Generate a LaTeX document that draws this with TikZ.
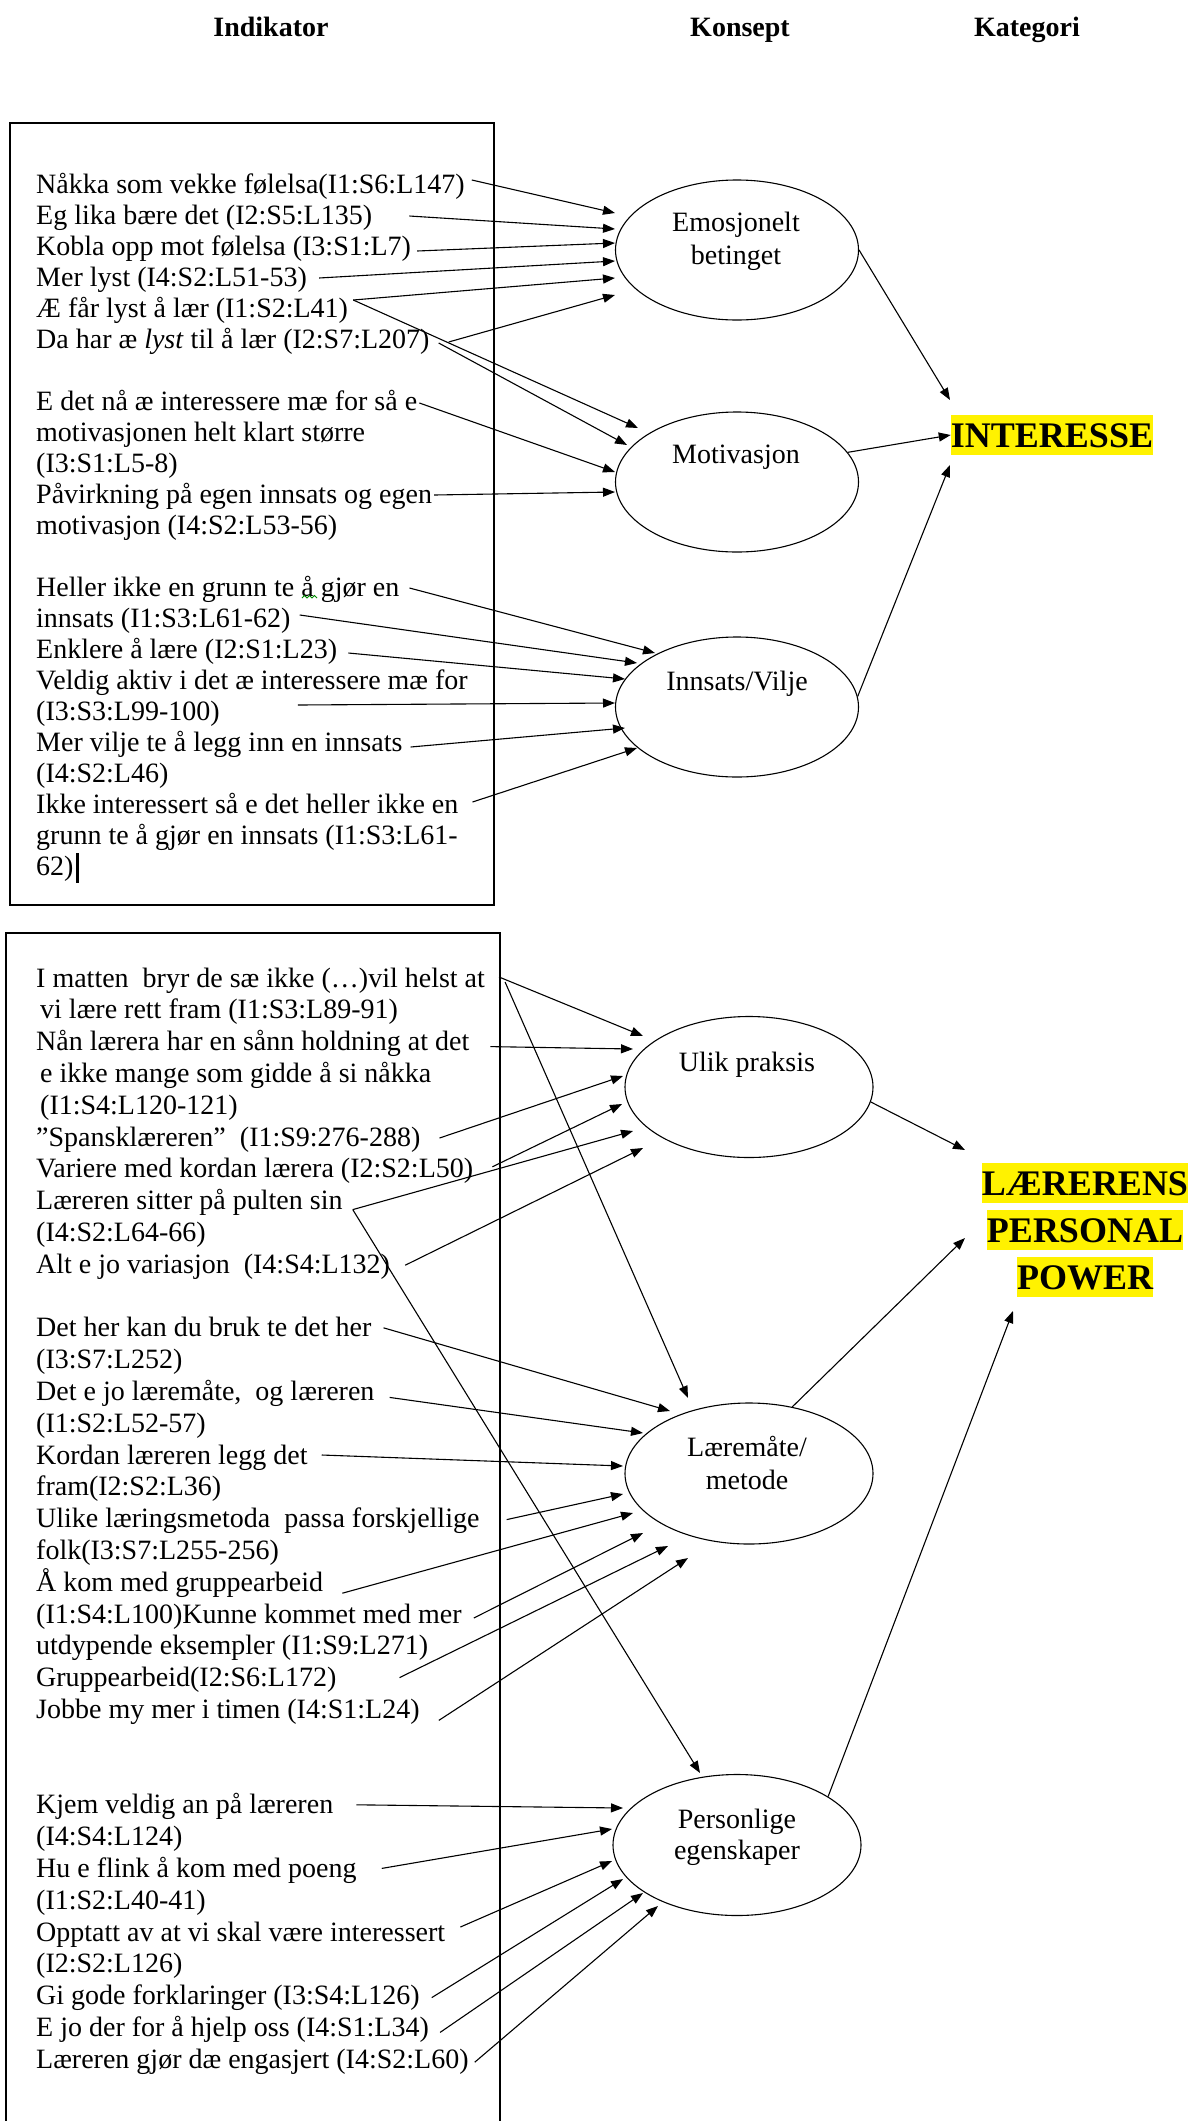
\documentclass[tikz,border=0pt]{standalone}
\usepackage{fontspec}
\setmainfont{Liberation Serif}
\usetikzlibrary{arrows.meta,shapes.geometric}
\begin{document}
\begin{tikzpicture}[x=1pt,y=-1pt,
  txt/.style={anchor=base west,inner sep=0pt,font=\fontsize{28}{32}\selectfont},
  hdr/.style={anchor=base,inner sep=0pt,font=\fontsize{28}{32}\selectfont\bfseries},
  ctext/.style={anchor=base,inner sep=0pt,font=\fontsize{28}{32}\selectfont},
  concept/.style={draw,ellipse,line width=1.1pt,minimum width=243pt,minimum height=140pt,inner sep=0pt},
  conceptw/.style={concept,minimum width=248pt,minimum height=141pt},
  cat/.style={anchor=base,fill=yellow,inner xsep=0pt,inner ysep=0pt,text height=32pt,text depth=8pt,
              font=\fontsize{36}{40}\selectfont\bfseries},
  arr/.style={line width=1.1pt,-{Triangle[length=12pt,width=9pt]}},
  boxline/.style={line width=1.5pt},
]
\useasboundingbox (0,0) rectangle (1192,2121);

% column headings
\node[hdr] (h1) at (271,36) {Indikator};
\node[hdr] (h2) at (740,36) {Konsept};
\node[hdr] (h3) at (1027,36) {Kategori};

% frames around the indicator lists
\draw[boxline] (10,123) rectangle (494,905);
\draw[boxline] (6,2121) -- (6,933) -- (500,933) -- (500,2121);

% ---------- indicators, first list ----------
\node[txt] (a1)  at (36,193) {Nåkka som vekke følelsa(I1:S6:L147)};
\node[txt] (a2)  at (36,224) {Eg lika bære det (I2:S5:L135)};
\node[txt] (a3)  at (36,255) {Kobla opp mot følelsa (I3:S1:L7)};
\node[txt] (a4)  at (36,286) {Mer lyst (I4:S2:L51-53)};
\node[txt] (a5)  at (36,317) {Æ får lyst å lær (I1:S2:L41)};
\node[txt] (a6)  at (36,348) {Da har æ \textit{lyst} til å lær (I2:S7:L207)};
\node[txt] (a7)  at (36,410) {E det nå æ interessere mæ for så e};
\node[txt] (a8)  at (36,441) {motivasjonen helt klart større};
\node[txt] (a9)  at (36,472) {(I3:S1:L5-8)};
\node[txt] (a10) at (36,503) {Påvirkning på egen innsats og egen};
\node[txt] (a11) at (36,534) {motivasjon (I4:S2:L53-56)};
\node[txt] (a12) at (36,596) {Heller ikke en grunn te å gjør en};
\node[txt] (a13) at (36,627) {innsats (I1:S3:L61-62)};
\node[txt] (a14) at (36,658) {Enklere å lære (I2:S1:L23)};
\node[txt] (a15) at (36,689) {Veldig aktiv i det æ interessere mæ for};
\node[txt] (a16) at (36,720) {(I3:S3:L99-100)};
\node[txt] (a17) at (36,751) {Mer vilje te å legg inn en innsats};
\node[txt] (a18) at (36,782) {(I4:S2:L46)};
\node[txt] (a19) at (36,813) {Ikke interessert så e det heller ikke en};
\node[txt] (a20) at (36,844) {grunn te å gjør en innsats (I1:S3:L61-};
\node[txt] (a21) at (36,875) {62)};
% text cursor and grammar squiggle
\draw[line width=2.5pt] ([shift={(4,-22)}]a21.base east) -- ([shift={(4,8)}]a21.base east);
\draw[green!55!black,line width=0.8pt] (302,598) -- (304.5,595.5) -- (307,598) -- (309.5,595.5) -- (312,598) -- (314.5,595.5) -- (317,598);

% ---------- indicators, second list ----------
\node[txt] (b0)  at (36,987)    {I matten\ \ bryr de sæ ikke (…)vil helst at};
\node[txt] (b1)  at (40,1018.8) {vi lære rett fram (I1:S3:L89-91)};
\node[txt] (b2)  at (36,1050.6) {Nån lærera har en sånn holdning at det};
\node[txt] (b3)  at (40,1082.4) {e ikke mange som gidde å si nåkka};
\node[txt] (b4)  at (40,1114.2) {(I1:S4:L120-121)};
\node[txt] (b5)  at (36,1146)   {"Spansklæreren”\ \ (I1:S9:276-288)};
\node[txt] (b6)  at (36,1177.8) {Variere med kordan lærera (I2:S2:L50)};
\node[txt] (b7)  at (36,1209.6) {Læreren sitter på pulten sin};
\node[txt] (b8)  at (36,1241.4) {(I4:S2:L64-66)};
\node[txt] (b9)  at (36,1273.2) {Alt e jo variasjon\ \ (I4:S4:L132)};
\node[txt] (b11) at (36,1336.8) {Det her kan du bruk te det her};
\node[txt] (b12) at (36,1368.6) {(I3:S7:L252)};
\node[txt] (b13) at (36,1400.4) {Det e jo læremåte,\ \ og læreren};
\node[txt] (b14) at (36,1432.2) {(I1:S2:L52-57)};
\node[txt] (b15) at (36,1464)   {Kordan læreren legg det};
\node[txt] (b16) at (36,1495.8) {fram(I2:S2:L36)};
\node[txt] (b17) at (36,1527.6) {Ulike læringsmetoda\ \ passa forskjellige};
\node[txt] (b18) at (36,1559.4) {folk(I3:S7:L255-256)};
\node[txt] (b19) at (36,1591.2) {Å kom med gruppearbeid};
\node[txt] (b20) at (36,1623)   {(I1:S4:L100)Kunne kommet med mer};
\node[txt] (b21) at (36,1654.8) {utdypende eksempler (I1:S9:L271)};
\node[txt] (b22) at (36,1686.6) {Gruppearbeid(I2:S6:L172)};
\node[txt] (b23) at (36,1718.4) {Jobbe my mer i timen (I4:S1:L24)};
\node[txt] (b26) at (36,1813.8) {Kjem veldig an på læreren};
\node[txt] (b27) at (36,1845.6) {(I4:S4:L124)};
\node[txt] (b28) at (36,1877.4) {Hu e flink å kom med poeng};
\node[txt] (b29) at (36,1909.2) {(I1:S2:L40-41)};
\node[txt] (b30) at (36,1941)   {Opptatt av at vi skal være interessert};
\node[txt] (b31) at (36,1972.8) {(I2:S2:L126)};
\node[txt] (b32) at (36,2004.6) {Gi gode forklaringer (I3:S4:L126)};
\node[txt] (b33) at (36,2036.4) {E jo der for å hjelp oss (I4:S1:L34)};
\node[txt] (b34) at (36,2068.2) {Læreren gjør dæ engasjert (I4:S2:L60)};

% ---------- concepts ----------
\node[concept]  (e1) at (737,250) {};
\node[concept]  (e2) at (737,482) {};
\node[concept]  (e3) at (737,707) {};
\node[conceptw] (e4) at (749,1087) {};
\node[conceptw] (e5) at (749,1473.5) {};
\node[conceptw] (e6) at (737,1845) {};
\node[ctext] (e1a) at (736,231)  {Emosjonelt};
\node[ctext] (e1b) at (736,264)  {betinget};
\node[ctext] (e2a) at (736,463)  {Motivasjon};
\node[ctext] (e3a) at (737,690)  {Innsats/Vilje};
\node[ctext] (e4a) at (747,1071) {Ulik praksis};
\node[ctext] (e5a) at (747,1456) {Læremåte/};
\node[ctext] (e5b) at (747,1489) {metode};
\node[ctext] (e6a) at (737,1828) {Personlige};
\node[ctext] (e6b) at (737,1859) {egenskaper};

% ---------- categories ----------
\node[cat] (int) at (1052,447)  {INTERESSE};
\node[cat] (lp1) at (1085,1195) {LÆRERENS};
\node[cat] (lp2) at (1085,1242) {PERSONAL};
\node[cat] (lp3) at (1085,1289) {POWER};

% arrow ends beside the concepts
\coordinate (e1t1) at (615,213); \coordinate (e1t2) at (615,229);
\coordinate (e1t3) at (615,243); \coordinate (e1t4) at (615,261);
\coordinate (e1t5) at (615,278); \coordinate (e1t6) at (615,295);
\coordinate (e2t1) at (638,428); \coordinate (e2t2) at (627,445);
\coordinate (e2t3) at (615,472); \coordinate (e2t4) at (615,492);
\coordinate (e3t1) at (655,653); \coordinate (e3t2) at (637,663);
\coordinate (e3t3) at (625,679); \coordinate (e3t4) at (615,703);
\coordinate (e3t5) at (625,728); \coordinate (e3t6) at (637,748);
\coordinate (u1) at (643,1036); \coordinate (u2) at (633,1049);
\coordinate (u3) at (623,1076); \coordinate (u4) at (622,1104);
\coordinate (u5) at (633,1131); \coordinate (u6) at (643,1148);
\coordinate (l1) at (688,1398); \coordinate (l2) at (670,1411);
\coordinate (l3) at (643,1433); \coordinate (l4) at (623,1466);
\coordinate (l5) at (623,1494); \coordinate (l6) at (633,1513);
\coordinate (l7) at (643,1533); \coordinate (l8) at (668,1546);
\coordinate (l9) at (688,1558);
\coordinate (p1) at (700,1773); \coordinate (p2) at (623,1808);
\coordinate (p3) at (612,1829); \coordinate (p4) at (612,1861);
\coordinate (p5) at (623,1879); \coordinate (p6) at (643,1893);
\coordinate (p7) at (658,1906);
\coordinate (i1) at (950,400); \coordinate (i3) at (950,465);
\coordinate (k1) at (965,1150); \coordinate (k2) at (965,1238);
\coordinate (k3) at (1013,1311);

% ---------- indicator -> concept ----------
\draw[arr] ([shift={(7,-13)}]a1.base east) -- (e1t1);
\draw[arr] ([shift={(37,-8)}]a2.base east) -- (e1t2);
\draw[arr] ([shift={(6,-4)}]a3.base east) -- (e1t3);
\draw[arr] ([shift={(12,-8)}]a4.base east) -- (e1t4);
\draw[arr] ([shift={(5,-17)}]a5.base east) -- (e1t5);
\draw[arr] ([shift={(19,-6)}]a6.base east) -- (e1t6);
\draw[arr] ([shift={(5,-17)}]a5.base east) -- (e2t1);
\draw[arr] ([shift={(9,-5)}]a6.base east) -- (e2t2);
\draw[arr] ([shift={(2,-7)}]a7.base east) -- (e2t3);
\draw[arr] ([shift={(2,-8)}]a10.base east) -- (e2t4);
\draw[arr] ([shift={(10,-8)}]a12.base east) -- (e3t1);
\draw[arr] ([shift={(9,-12)}]a13.base east) -- (e3t2);
\draw[arr] ([shift={(11,-5)}]a14.base east) -- (e3t3);
\draw[arr] ([shift={(78,-15)}]a16.base east) -- (e3t4);
\draw[arr] ([shift={(8,-4)}]a17.base east) -- (e3t5);
\draw[arr] ([shift={(14,-11)}]a19.base east) -- (e3t6);

\draw[arr] ([shift={(14,-10)}]b0.base east) -- (u1);
\draw[arr] ([shift={(20,-5)}]b0.base east) -- (l1);
\draw[arr] ([shift={(21,-4)}]b2.base east) -- (u2);
\draw[arr] ([shift={(19,-8)}]b5.base east) -- (u3);
\draw[arr] ([shift={(19,-11)}]b6.base east) -- (u4);
\draw[arr] ([shift={(10,0)}]b7.base east) -- (u5);
\draw[arr] ([shift={(10,0)}]b7.base east) -- (p1);
\draw[arr] ([shift={(15,-8)}]b9.base east) -- (u6);
\draw[arr] ([shift={(12,-9)}]b11.base east) -- (l2);
\draw[arr] ([shift={(15,-3)}]b13.base east) -- (l3);
\draw[arr] ([shift={(14,-9)}]b15.base east) -- (l4);
\draw[arr] ([shift={(27,-8)}]b17.base east) -- (l5);
\draw[arr] ([shift={(19,2)}]b19.base east) -- (l6);
\draw[arr] ([shift={(12,-5)}]b20.base east) -- (l7);
\draw[arr] ([shift={(63,-9)}]b22.base east) -- (l8);
\draw[arr] ([shift={(19,2)}]b23.base east) -- (l9);
\draw[arr] ([shift={(23,-9)}]b26.base east) -- (p2);
\draw[arr] ([shift={(25,-9)}]b28.base east) -- (p3);
\draw[arr] ([shift={(15,-14)}]b30.base east) -- (p4);
\draw[arr] ([shift={(12,-7)}]b32.base east) -- (p5);
\draw[arr] ([shift={(11,-4)}]b33.base east) -- (p6);
\draw[arr] ([shift={(6,-6)}]b34.base east) -- (p7);

% ---------- concept -> category ----------
\draw[arr] (e1.east) -- (i1);
\draw[arr] (e2.15) -- (int.west);
\draw[arr] (e3.5) -- (i3);
\draw[arr] (e4.-7) -- (k1);
\draw[arr] (e5.57) -- (k2);
\draw[arr] (e6.28) -- (k3);
\end{tikzpicture}
\end{document}
